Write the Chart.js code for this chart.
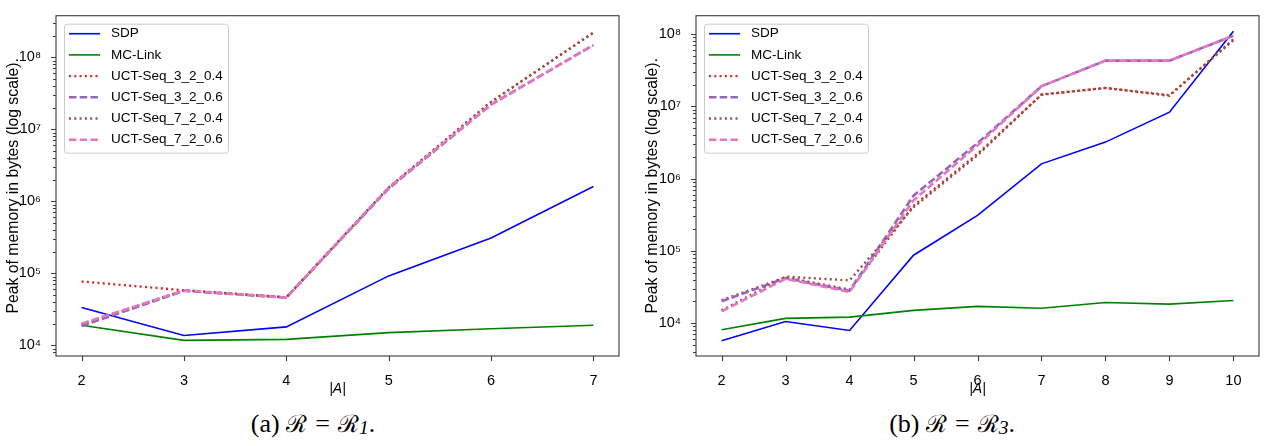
<!DOCTYPE html>
<html>
<head>
<meta charset="utf-8">
<script src="https://cdn.jsdelivr.net/npm/chart.js@4"></script>
<style>
  html, body { margin: 0; padding: 0; background: #fff; }
  body { width: 1265px; height: 446px; position: relative; overflow: hidden; }
  canvas { position: absolute; top: 0; }
  #graficoA { left: 0; }
  #graficoB { left: 632px; }
  .legenda { position: absolute; top: 406px; font-family: "Liberation Serif", "DejaVu Serif", serif; font-size: 26px; color: #000; white-space: nowrap; transform: translateX(-50%); }
  .legenda .r { font-family: "DejaVu Serif", serif; font-size: 24px; }
  .legenda .eq { padding: 0 8px; }
  .legenda sub { font-style: italic; font-size: 0.75em; vertical-align: -2px; }
</style>
</head>
<body>
<canvas id="graficoA" width="626" height="400"></canvas>
<canvas id="graficoB" width="633" height="400"></canvas>
<div class="legenda" style="left:313px">(a) <span class="r">ℛ</span><span class="eq">=</span><span class="r">ℛ</span><sub>1</sub>.</div>
<div class="legenda" style="left:952px">(b) <span class="r">ℛ</span><span class="eq">=</span><span class="r">ℛ</span><sub>3</sub>.</div>
<script>
// series names and styles
const nomes = ['SDP', 'MC-Link', 'UCT-Seq_3_2_0.4', 'UCT-Seq_3_2_0.6', 'UCT-Seq_7_2_0.4', 'UCT-Seq_7_2_0.6'];
const cores = ['#0000ff', '#008000', '#d62728', '#9467bd', '#8c564b', '#e377c2'];

// (a) R = R1
const xA = [2, 3, 4, 5, 6, 7];
const sdpA = [33400, 13700, 18000, 92000, 310000, 1600000];
const mcA = [19000, 11700, 12100, 15000, 17000, 19000];
const uct3204A = [77000, 58000, 46000, 1550000, 24000000, 220000000];
const uct3206A = [18500, 57000, 46000, 1500000, 22000000, 148000000];
const uct7204A = [19500, 58000, 46500, 1550000, 24000000, 220000000];
const uct7206A = [20000, 57500, 46000, 1550000, 22000000, 148000000];

// (b) R = R3
const xB = [2, 3, 4, 5, 6, 7, 8, 9, 10];
const sdpB = [5700, 10500, 7900, 87000, 310000, 1600000, 3200000, 8300000, 110000000];
const mcB = [8100, 11600, 12100, 15000, 17000, 16000, 19300, 18300, 20500];
const uct3204B = [20700, 43000, 29000, 420000, 2200000, 14500000, 18000000, 14000000, 85000000];
const uct3206B = [20000, 42000, 28000, 580000, 3100000, 19000000, 43000000, 43000000, 95000000];
const uct7204B = [15000, 44000, 39000, 400000, 2100000, 14600000, 18000000, 14300000, 82000000];
const uct7206B = [14500, 41000, 27000, 500000, 2900000, 19000000, 43000000, 43000000, 95000000];

Chart.defaults.font.family = '"Liberation Sans", Arial, sans-serif';
Chart.defaults.font.size = 14.5;
Chart.defaults.color = '#000';

const sup = { '-': '⁻', '0': '⁰', '1': '¹', '2': '²', '3': '³', '4': '⁴', '5': '⁵', '6': '⁶', '7': '⁷', '8': '⁸', '9': '⁹' };
function ehPotencia(v) {
  const e = Math.round(Math.log10(v));
  return Math.abs(v - Math.pow(10, e)) < 1e-6 * v;
}

function estilo(i) {
  if (i < 2) return { borderWidth: 1.6, borderDash: [] };
  if (i === 2 || i === 4) return { borderWidth: 2.4, borderDash: [2, 3.3] };
  return { borderWidth: 2.6, borderDash: [7.5, 3.2] };
}

// frame + tick marks like matplotlib
const moldura = {
  id: 'moldura',
  afterDraw(chart) {
    const { ctx, chartArea: a, scales } = chart;
    ctx.save();
    ctx.strokeStyle = '#3a3a3a';
    ctx.lineWidth = 1.1;
    ctx.strokeRect(a.left, a.top, a.right - a.left, a.bottom - a.top);
    ctx.beginPath();
    scales.x.ticks.forEach(t => {
      const px = Math.round(scales.x.getPixelForValue(t.value)) + 0.5;
      ctx.moveTo(px, a.bottom);
      ctx.lineTo(px, a.bottom + 5);
    });
    scales.y.ticks.forEach(t => {
      const py = Math.round(scales.y.getPixelForValue(t.value)) + 0.5;
      const len = ehPotencia(t.value) ? 5 : 3;
      ctx.moveTo(a.left - len, py);
      ctx.lineTo(a.left, py);
    });
    ctx.stroke();
    ctx.restore();
  }
};

// legend box in the upper left corner
const legendaCaixa = {
  id: 'legendaCaixa',
  afterDraw(chart) {
    const { ctx, chartArea: a } = chart;
    const x0 = a.left + 8, y0 = a.top + 8, w = 164, h = 129;
    ctx.save();
    ctx.fillStyle = 'rgba(255,255,255,0.85)';
    ctx.strokeStyle = '#cccccc';
    ctx.lineWidth = 1;
    ctx.beginPath();
    ctx.roundRect(x0 + 0.5, y0 + 0.5, w, h, 3);
    ctx.fill();
    ctx.stroke();
    ctx.font = '13.5px "Liberation Sans", Arial, sans-serif';
    ctx.textBaseline = 'middle';
    nomes.forEach((nome, i) => {
      const y = y0 + 10 + i * 21.2;
      const s = estilo(i);
      ctx.strokeStyle = cores[i];
      ctx.lineWidth = s.borderWidth;
      ctx.setLineDash(s.borderDash);
      ctx.beginPath();
      ctx.moveTo(x0 + 5, y);
      ctx.lineTo(x0 + 36, y);
      ctx.stroke();
      ctx.setLineDash([]);
      ctx.fillStyle = '#000';
      ctx.fillText(nome, x0 + 47, y);
    });
    ctx.restore();
  }
};

function criarGrafico(id, xs, series, xMin, xMax, yMin, yMax, larguraY, padDireita, padTitulo) {
  const ctx = document.getElementById(id).getContext('2d');
  return new Chart(ctx, {
    type: 'line',
    data: {
      datasets: series.map((dados, i) => ({
        label: nomes[i],
        data: xs.map((x, j) => ({ x: x, y: dados[j] })),
        borderColor: cores[i],
        backgroundColor: cores[i],
        ...estilo(i),
        pointRadius: 0,
        tension: 0,
        fill: false,
        order: series.length - i
      }))
    },
    options: {
      responsive: false,
      animation: false,
      devicePixelRatio: 1,
      layout: { padding: { left: 0, top: 4, right: padDireita, bottom: 0 } },
      plugins: { legend: { display: false }, tooltip: { enabled: false } },
      scales: {
        x: {
          type: 'linear',
          min: xMin,
          max: xMax,
          grid: { display: false },
          border: { display: false },
          afterBuildTicks: (scale) => { scale.ticks = xs.map(v => ({ value: v })); },
          afterFit: (scale) => { scale.height = 44; },
          ticks: { padding: 8, autoSkip: false, maxRotation: 0, callback: (v) => String(v) },
          title: { display: true, text: '|A|', font: { size: 14, style: 'italic' }, padding: { top: 0, bottom: 2 } }
        },
        y: {
          type: 'logarithmic',
          min: yMin,
          max: yMax,
          grid: { display: false },
          border: { display: false },
          afterBuildTicks: (scale) => {
            const ticks = [];
            for (let e = Math.floor(Math.log10(yMin)); e <= Math.ceil(Math.log10(yMax)); e++) {
              for (let k = 1; k < 10; k++) {
                const v = k * Math.pow(10, e);
                if (v >= yMin && v <= yMax) ticks.push({ value: v });
              }
            }
            scale.ticks = ticks;
          },
          afterFit: (scale) => { scale.width = larguraY; },
          ticks: {
            padding: 7,
            autoSkip: false,
            callback: (v) => {
              if (!ehPotencia(v)) return '';
              const e = String(Math.round(Math.log10(v)));
              return '10' + e.split('').map(c => sup[c]).join('');
            }
          },
          title: { display: true, text: 'Peak of memory in bytes (log scale).', font: { size: 15.8 }, padding: { top: padTitulo, bottom: 0 } }
        }
      }
    },
    plugins: [moldura, legendaCaixa]
  });
}

criarGrafico('graficoA', xA, [sdpA, mcA, uct3204A, uct3206A, uct7204A, uct7206A],
  1.75, 7.25, 7100, 3.78e8, 56, 7, 4);
criarGrafico('graficoB', xB, [sdpB, mcB, uct3204B, uct3206B, uct7204B, uct7206B],
  1.6, 10.4, 3500, 1.8e8, 64, 6, 11);
</script>
</body>
</html>
